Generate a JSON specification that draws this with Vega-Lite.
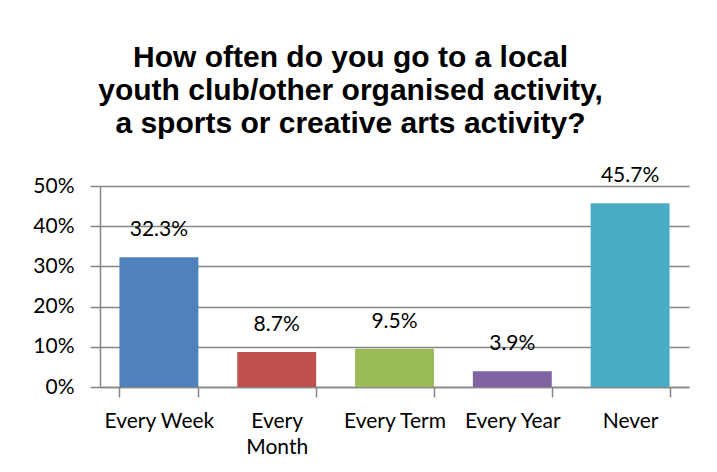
{
  "$schema": "https://vega.github.io/schema/vega-lite/v6.json",
  "autosize": {"type": "none"},
  "width": 589,
  "height": 201,
  "padding": {"left": 100, "top": 186, "right": 28, "bottom": 85},
  "background": "white",
  "title": {
    "text": ["How often do you go to a local", "youth club/other organised activity,", "a sports or creative arts activity?"],
    "font": "Liberation Sans",
    "fontSize": 30,
    "fontWeight": "bold",
    "color": "#000000",
    "lineHeight": 33,
    "anchor": "middle",
    "frame": "group",
    "dx": -44,
    "offset": 26
  },
  "data": {
    "values": [
      {"category": "Every Week", "value": 0.323, "label": "32.3%"},
      {"category": "Every Month", "value": 0.087, "label": "8.7%"},
      {"category": "Every Term", "value": 0.095, "label": "9.5%"},
      {"category": "Every Year", "value": 0.039, "label": "3.9%"},
      {"category": "Never", "value": 0.457, "label": "45.7%"}
    ]
  },
  "encoding": {
    "x": {
      "field": "category",
      "type": "nominal",
      "sort": null,
      "scale": {"paddingInner": 0.33, "paddingOuter": 0.165},
      "axis": {
        "title": null,
        "labelAngle": 0,
        "labelFont": "Lato",
        "labelFontSize": 21,
        "labelColor": "#000000",
        "labelPadding": 13,
        "labelLineHeight": 26,
        "labelExpr": "datum.label == 'Every Month' ? ['Every', 'Month'] : datum.label",
        "tickBand": "extent",
        "tickSize": 10,
        "tickColor": "#868686",
        "tickWidth": 1.5,
        "domainColor": "#868686",
        "domainWidth": 1.5,
        "grid": false
      }
    },
    "y": {
      "field": "value",
      "type": "quantitative",
      "scale": {"domain": [0, 0.5], "nice": false},
      "axis": {
        "title": null,
        "values": [0, 0.1, 0.2, 0.3, 0.4, 0.5],
        "format": ".0%",
        "labelFont": "Lato",
        "labelFontSize": 21,
        "labelColor": "#000000",
        "labelPadding": 16,
        "tickSize": 10,
        "tickColor": "#868686",
        "tickWidth": 1.5,
        "domainColor": "#868686",
        "domainWidth": 1.5,
        "grid": true,
        "gridColor": "#868686",
        "gridWidth": 1.5
      }
    }
  },
  "layer": [
    {
      "mark": {"type": "bar"},
      "encoding": {
        "color": {
          "field": "category",
          "type": "nominal",
          "sort": null,
          "scale": {
            "domain": ["Every Week", "Every Month", "Every Term", "Every Year", "Never"],
            "range": ["#4F81BD", "#C0504D", "#9BBB59", "#8064A2", "#4BACC6"]
          },
          "legend": null
        }
      }
    },
    {
      "mark": {"type": "text", "font": "Lato", "fontSize": 21, "color": "#000000", "baseline": "alphabetic", "dy": -21},
      "encoding": {"text": {"field": "label"}}
    }
  ],
  "config": {"view": {"stroke": null}}
}
